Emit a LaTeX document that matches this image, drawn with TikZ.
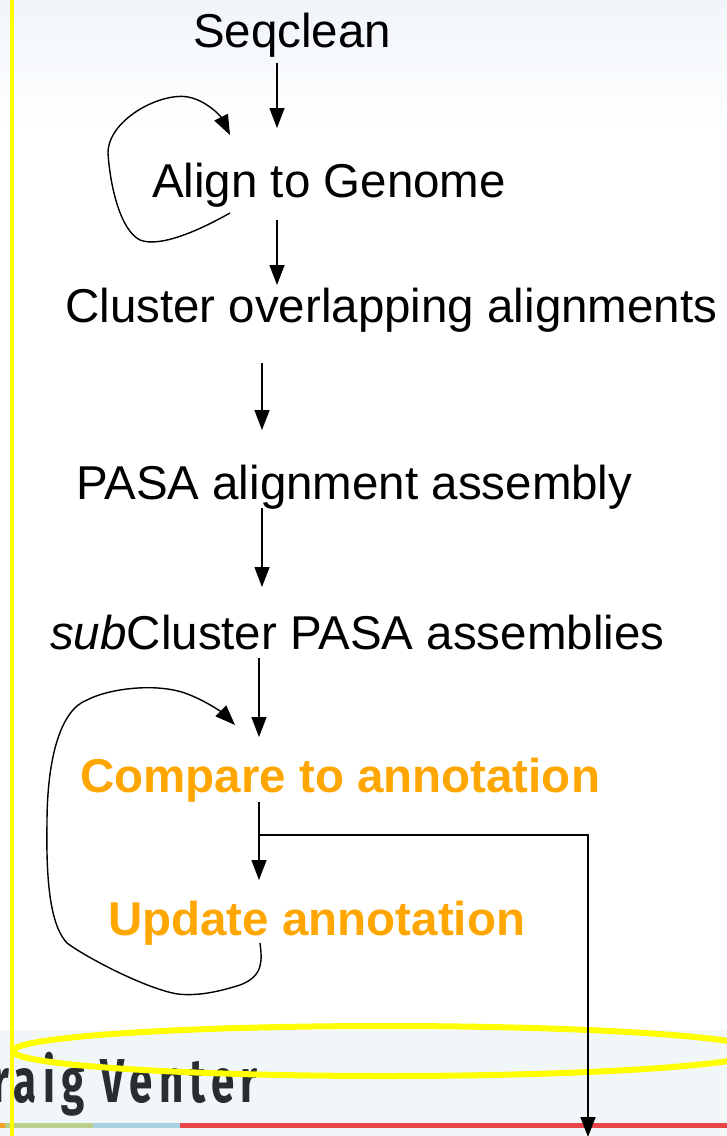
\documentclass[tikz,border=0pt]{standalone}
\usepackage{fontspec}
\setmainfont{Liberation Sans}
\newfontfamily\ventfont{Fira Sans}[FakeStretch=0.68, LetterSpace=10]
\usetikzlibrary{arrows.meta}
\definecolor{orng}{RGB}{255,166,0}
\definecolor{ventgray}{RGB}{40,45,50}
\definecolor{bandblue}{RGB}{241,246,249}
\definecolor{topblue}{RGB}{240,245,250}
\definecolor{stripgreen}{RGB}{184,208,138}
\definecolor{stripblue}{RGB}{168,210,224}
\definecolor{stripred}{RGB}{232,70,70}
\definecolor{stripor}{RGB}{245,160,40}
\definecolor{yel}{RGB}{255,255,0}
\tikzset{
  lbl/.style={inner sep=0pt, anchor=base west, font=\fontsize{47.5}{57}\selectfont},
  hot/.style={lbl, text=orng, font=\fontsize{47.5}{57}\selectfont\bfseries},
  arr/.style={line width=1.4pt, -{Triangle[length=20pt,width=15pt]}},
  loopln/.style={line width=1.4pt, -{Triangle[length=20pt,width=15pt]}}
}
\begin{document}
\begin{tikzpicture}[x=1pt,y=-1pt]
\useasboundingbox (0,0) rectangle (727,1136);
% backgrounds
\shade[top color=topblue, bottom color=white] (0,0) rectangle (727,130);
\fill[bandblue] (0,1030) rectangle (727,1136);
% footer logo text and strip
\node[inner sep=0pt, anchor=base west, text=ventgray, font=\ventfont\bfseries\fontsize{62}{66}\selectfont] (vent) at (-8,1102) {raig Venter};
\fill[stripor] (0,1123) rectangle (5,1128);
\fill[stripgreen] (5,1123) rectangle (93,1128);
\fill[stripblue] (93,1123) rectangle (180,1128);
\fill[stripred] (180,1123) rectangle (727,1128);
% yellow ellipse
\draw[yel, line width=6pt] (386,1051) ellipse [x radius=373, y radius=25];
% labels
\node[lbl] (seq) at (193,47) {Seqclean};
\node[lbl] (align) at (152,197) {Align to Genome};
\node[lbl] (clus) at (65,322) {Cluster overlapping alignments};
\node[lbl] (pasa) at (76,499) {PASA alignment assembly};
\node[lbl] (subc) at (50,649) {\textit{sub}Cluster PASA assemblies};
\node[hot] (comp) at (80,792) {Compare to annotation};
\node[hot] (upd) at (108,935) {Update annotation};
% connector end points
\coordinate (a1s) at (277,63);  \coordinate (a1e) at (277,128);
\coordinate (a2s) at (277,220); \coordinate (a2e) at (277,285);
\coordinate (a3s) at (262,363); \coordinate (a3e) at (262,430);
\coordinate (a4s) at (262,508); \coordinate (a4e) at (262,587);
\coordinate (a5s) at (259,658); \coordinate (a5e) at (259,737);
\coordinate (a6s) at (259,802); \coordinate (a6e) at (259,880);
\coordinate (br) at (259,835); \coordinate (brc) at (588,835); \coordinate (bre) at (588,1137);
\coordinate (l1s) at (230,213); \coordinate (l1e) at (230,135);
\coordinate (l2s) at (260,943); \coordinate (l2e) at (235,725);
% straight arrows
\draw[arr] (a1s) -- (a1e);
\draw[arr] (a2s) -- (a2e);
\draw[arr] (a3s) -- (a3e);
\draw[arr] (a4s) -- (a4e);
\draw[arr] (a5s) -- (a5e);
\draw[arr] (a6s) -- (a6e);
\draw[arr] (br) -- (brc) -- (bre);
% loops
\draw[loopln] (l1s) .. controls (200,230) and (160,248) .. (140,240)
  .. controls (120,230) and (110,185) .. (108,153)
  .. controls (108,120) and (160,92) .. (188,97)
  .. controls (205,100) and (220,115) .. (l1e);
\draw[loopln] (l2s) .. controls (262,960) and (264,976) .. (240,985)
  .. controls (215,993) and (195,996) .. (178,994)
  .. controls (150,990) and (90,960) .. (67,943)
  .. controls (50,925) and (46,880) .. (47,823)
  .. controls (47,760) and (60,710) .. (87,700)
  .. controls (110,688) and (160,682) .. (190,695)
  .. controls (210,703) and (225,715) .. (l2e);
% yellow vertical line
\draw[yel, line width=4pt] (12,0) -- (12,1136);
\end{tikzpicture}
\end{document}
